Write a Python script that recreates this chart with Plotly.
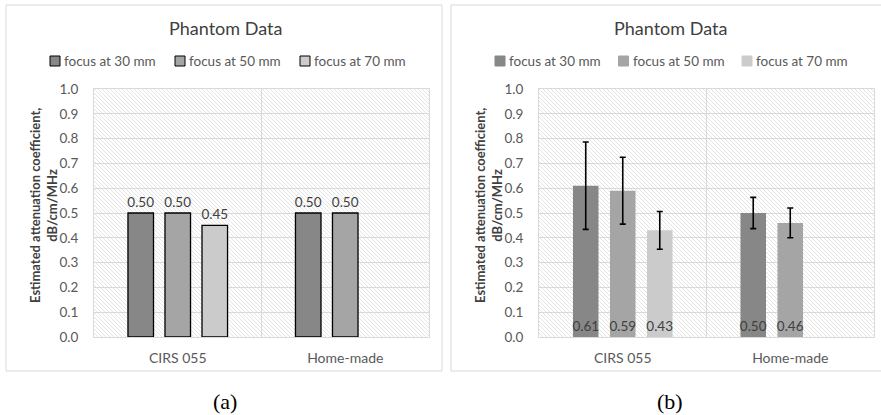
import base64
import plotly.graph_objects as go

# ---- data -----------------------------------------------------------------
categories = ["CIRS 055", "Home-made"]
series_names = ["focus at 30 mm", "focus at 50 mm", "focus at 70 mm"]

# (a) single-estimate values
values_a = [
    [0.50, 0.50],
    [0.50, 0.50],
    [0.45, None],
]
# (b) mean values with standard deviation
values_b = [
    [0.61, 0.50],
    [0.59, 0.46],
    [0.43, None],
]
errors_b = [
    [0.176, 0.063],
    [0.135, 0.060],
    [0.076, None],
]
y_tick_values = [0.0, 0.1, 0.2, 0.3, 0.4, 0.5, 0.6, 0.7, 0.8, 0.9, 1.0]

# ---- styling --------------------------------------------------------------
W, H = 881, 415
bar_colors = ["#878787", "#a5a5a5", "#cbcbcb"]
grid_color = "#d9d9d9"
text_color = "#595959"
label_color = "#404040"
FONT = "Lato"

x_pos = list(range(len(categories)))


def px_x(p):
    return p / W


def px_y(p):
    return 1 - p / H


# diagonal hatch used as the plot-area background
def hatch_uri(w, h):
    svg = (
        f'<svg xmlns="http://www.w3.org/2000/svg" width="{w}" height="{h}">'
        '<defs><pattern id="p" width="4" height="4" patternUnits="userSpaceOnUse">'
        '<path d="M-1,-1 L5,5 M-1,3 L1,5 M3,-1 L5,1" stroke="#e4e4e4" stroke-width="1"/>'
        '</pattern></defs>'
        f'<rect width="{w}" height="{h}" fill="white"/>'
        f'<rect width="{w}" height="{h}" fill="url(#p)"/></svg>'
    )
    return "data:image/svg+xml;base64," + base64.b64encode(svg.encode()).decode()


panels = [
    dict(x0=94, x1=429, legend_x=50, legend_step=125, outlined=True),
    dict(x0=539, x1=874, legend_x=495, legend_step=123.5, outlined=False),
]
plot_top, plot_bottom = 89, 337

fig = go.Figure()

# panel (a): outlined bars with values above
for i, name in enumerate(series_names):
    fig.add_trace(go.Bar(
        x=x_pos, y=values_a[i], name=name,
        marker=dict(color=bar_colors[i], line=dict(color="#000000", width=1.3)),
        texttemplate="%{y:.2f}", textposition="outside", textangle=0,
        constraintext="none",
        textfont=dict(family=FONT, size=13.5, color=label_color),
        cliponaxis=False, xaxis="x", yaxis="y",
    ))

# panel (b): bars with error bars, values at the base
for i, name in enumerate(series_names):
    fig.add_trace(go.Bar(
        x=x_pos, y=values_b[i], name=name,
        marker=dict(color=bar_colors[i], line=dict(width=0)),
        error_y=dict(type="data", array=errors_b[i], color="#000000",
                     thickness=1.6, width=3),
        texttemplate="%{y:.2f}", textposition="inside", textangle=0,
        insidetextanchor="start", constraintext="none",
        insidetextfont=dict(family=FONT, size=13.5, color=label_color),
        xaxis="x2", yaxis="y2",
    ))

x_common = dict(
    range=[-0.5, 1.5], tickmode="array", tickvals=x_pos, ticktext=categories,
    showgrid=False, zeroline=False, showline=True, mirror=True,
    linecolor=grid_color, linewidth=1, ticks="", ticklabelstandoff=8,
    tickfont=dict(family=FONT, size=14, color=text_color),
    minor=dict(tickmode="array", tickvals=[0.5], showgrid=True,
               gridcolor=grid_color, gridwidth=1, ticks=""),
    automargin=False, fixedrange=True,
)
y_common = dict(
    range=[0, 1], tickmode="array", tickvals=y_tick_values,
    tickformat=".1f", showgrid=True, gridcolor=grid_color, gridwidth=1,
    zeroline=False, showline=True, mirror=True, linecolor=grid_color,
    ticks="", ticklabelstandoff=12,
    tickfont=dict(family=FONT, size=13.5, color=text_color),
    domain=[px_y(plot_bottom), px_y(plot_top)],
    automargin=False, fixedrange=True,
)


def note(text, x, y, size, xanchor="center", **extra):
    font = dict(family=extra.pop("family", FONT), size=size,
                color=extra.pop("color", label_color))
    if "weight" in extra:
        font["weight"] = extra.pop("weight")
    return dict(text=text, xref="paper", yref="paper", x=px_x(x), y=px_y(y),
                xanchor=xanchor, yanchor="middle", showarrow=False,
                font=font, **extra)


shapes = []
images = []
annotations = []
for k, p in enumerate(panels):
    off = 445 * k
    # outer panel frame
    shapes.append(dict(type="rect", xref="paper", yref="paper",
                       x0=px_x(6 + off), x1=px_x(442 + off),
                       y0=px_y(371), y1=px_y(5),
                       line=dict(color=grid_color, width=1), layer="below"))
    images.append(dict(source=hatch_uri(p["x1"] - p["x0"], plot_bottom - plot_top),
                       xref="paper", yref="paper",
                       x=px_x(p["x0"]), y=px_y(plot_top),
                       sizex=px_x(p["x1"] - p["x0"]),
                       sizey=(plot_bottom - plot_top) / H,
                       sizing="stretch", layer="below",
                       xanchor="left", yanchor="top"))
    annotations.append(note("Phantom Data", 225 + off, 28, 18))
    annotations.append(note("Estimated attenuation coefficient,<br>dB/cm/MHz",
                            43 + off, 206, 13, textangle=-90, weight="bold"))
    annotations.append(note("(%s)" % "ab"[k], 225 + off, 401, 22,
                            family="Liberation Serif", color="#000000"))
    # legend keys
    for i, name in enumerate(series_names):
        sx = p["legend_x"] + p["legend_step"] * i
        shapes.append(dict(type="rect", xref="paper", yref="paper",
                           x0=px_x(sx), x1=px_x(sx + 10),
                           y0=px_y(66), y1=px_y(56),
                           fillcolor=bar_colors[i],
                           line=dict(color="#000000" if p["outlined"] else bar_colors[i],
                                     width=1)))
        annotations.append(note(name, sx + 12, 61, 13.5, xanchor="left",
                                color=text_color))

fig.update_layout(
    width=W, height=H, margin=dict(l=0, r=0, t=0, b=0),
    paper_bgcolor="white", plot_bgcolor="rgba(0,0,0,0)",
    barmode="group", bargap=0.337, bargroupgap=0.31,
    xaxis=dict(x_common, domain=[px_x(94), px_x(429)], anchor="y"),
    yaxis=dict(y_common, anchor="x"),
    xaxis2=dict(x_common, domain=[px_x(539), px_x(874)], anchor="y2"),
    yaxis2=dict(y_common, anchor="x2"),
    shapes=shapes, images=images, annotations=annotations,
    showlegend=False, font=dict(family=FONT),
)

fig.write_html("out.html")
